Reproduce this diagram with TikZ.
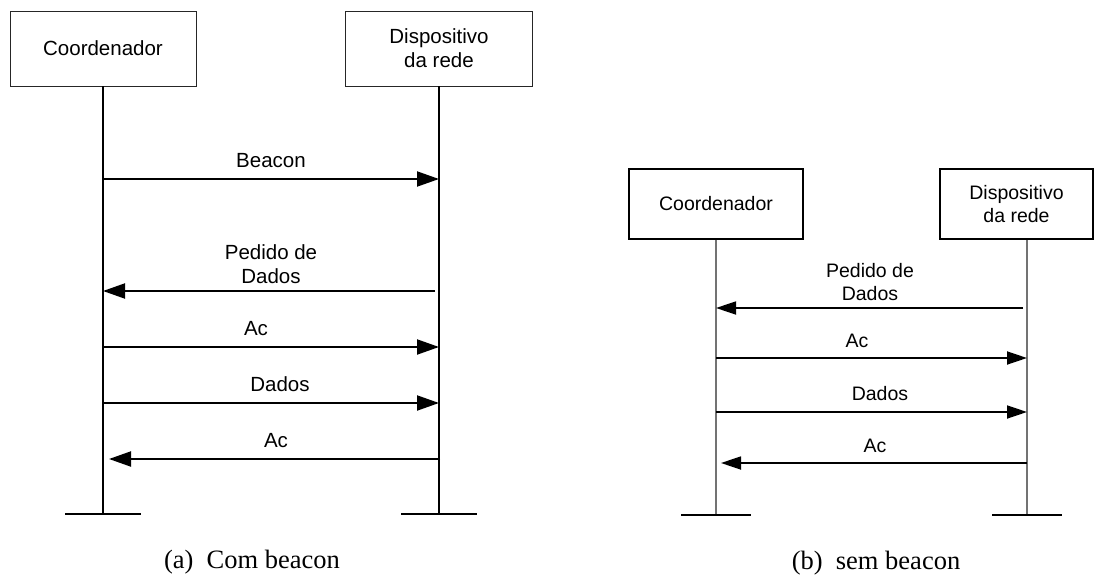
\documentclass[tikz,border=0pt]{standalone}
\usepackage{fontspec}
\setmainfont{Liberation Serif}
\newfontfamily\lsans{Liberation Sans}
\usetikzlibrary{arrows.meta,calc}
\begin{document}
\begin{tikzpicture}[x=1pt,y=-1pt,
  boxa/.style={draw=black!85, line width=0.9pt, font=\lsans\fontsize{20.5}{24}\selectfont, align=center, inner sep=0pt, minimum height=75pt},
  boxb/.style={draw=black, line width=1.5pt, font=\lsans\fontsize{19.5}{23}\selectfont, align=center, inner sep=0pt, minimum height=70pt},
  lifea/.style={draw=black, line width=1.4pt},
  lifeb/.style={draw=black!55, line width=1.1pt},
  bar/.style={draw=black, line width=2.2pt},
  msga/.style={draw=black, line width=2pt, -{Triangle[length=22pt,width=15pt]}},
  msgb/.style={draw=black, line width=1.8pt, -{Triangle[length=20pt,width=13pt]}},
  lbla/.style={font=\lsans\fontsize{20.5}{24}\selectfont, align=center, inner sep=0pt},
  lblb/.style={font=\lsans\fontsize{19.5}{23}\selectfont, align=center, inner sep=0pt},
  capt/.style={font=\fontsize{26.5}{30}\selectfont, inner sep=0pt}
]
\useasboundingbox (0,0) rectangle (1105,583);

% ---------- (a) ----------
\node[boxa, minimum width=186pt] (ca) at (103,48.5) {Coordenador};
\node[boxa, minimum width=187pt] (da) at (439,48.5) {Dispositivo\\da rede};
\coordinate (caend) at (103,514);
\coordinate (daend) at (439,514);
\draw[lifea] (ca.south) -- (caend);
\draw[lifea] (da.south) -- (daend);
\draw[bar] ($(caend)+(-38,0)$) -- ($(caend)+(38,0)$);
\draw[bar] ($(daend)+(-38,0)$) -- ($(daend)+(38,0)$);

\coordinate (a1l) at (103,179); \coordinate (a1r) at (439,179);
\coordinate (a2l) at (103,291); \coordinate (a2r) at (435,291);
\coordinate (a3l) at (103,347); \coordinate (a3r) at (439,347);
\coordinate (a4l) at (103,403); \coordinate (a4r) at (439,403);
\coordinate (a5l) at (109,459); \coordinate (a5r) at (440,459);
\draw[msga] (a1l) -- (a1r);
\draw[msga] (a2r) -- (a2l);
\draw[msga] (a3l) -- (a3r);
\draw[msga] (a4l) -- (a4r);
\draw[msga] (a5r) -- (a5l);
\node[lbla] (la1) at (271,161) {Beacon};
\node[lbla] (la2) at (271,264) {Pedido de\\Dados};
\node[lbla] (la3) at (256,329) {Ac};
\node[lbla] (la4) at (280,384) {Dados};
\node[lbla] (la5) at (276,441) {Ac};
\node[capt] (capa) at (252,562) {(a)\enspace Com beacon};

% ---------- (b) ----------
\node[boxb, minimum width=174pt] (cb) at (716,204) {Coordenador};
\node[boxb, minimum width=153pt] (db) at (1016.5,204) {Dispositivo\\da rede};
\coordinate (cbend) at (716,515);
\coordinate (dbend) at (1027,515);
\draw[lifeb] (cb.south) -- (cbend);
\draw[lifeb] (db.south -| dbend) -- (dbend);
\draw[bar] ($(cbend)+(-35,0)$) -- ($(cbend)+(35,0)$);
\draw[bar] ($(dbend)+(-35,0)$) -- ($(dbend)+(35,0)$);

\coordinate (b1l) at (716,308); \coordinate (b1r) at (1023,308);
\coordinate (b2l) at (716,358); \coordinate (b2r) at (1027,358);
\coordinate (b3l) at (716,412); \coordinate (b3r) at (1027,412);
\coordinate (b4l) at (721,463); \coordinate (b4r) at (1027,463);
\draw[msgb] (b1r) -- (b1l);
\draw[msgb] (b2l) -- (b2r);
\draw[msgb] (b3l) -- (b3r);
\draw[msgb] (b4r) -- (b4l);
\node[lblb] (lb1) at (870,282) {Pedido de\\Dados};
\node[lblb] (lb2) at (857,341) {Ac};
\node[lblb] (lb3) at (880,394) {Dados};
\node[lblb] (lb4) at (875,446) {Ac};
\node[capt] (capb) at (876,563) {(b)\enspace sem beacon};
\end{tikzpicture}
\end{document}
